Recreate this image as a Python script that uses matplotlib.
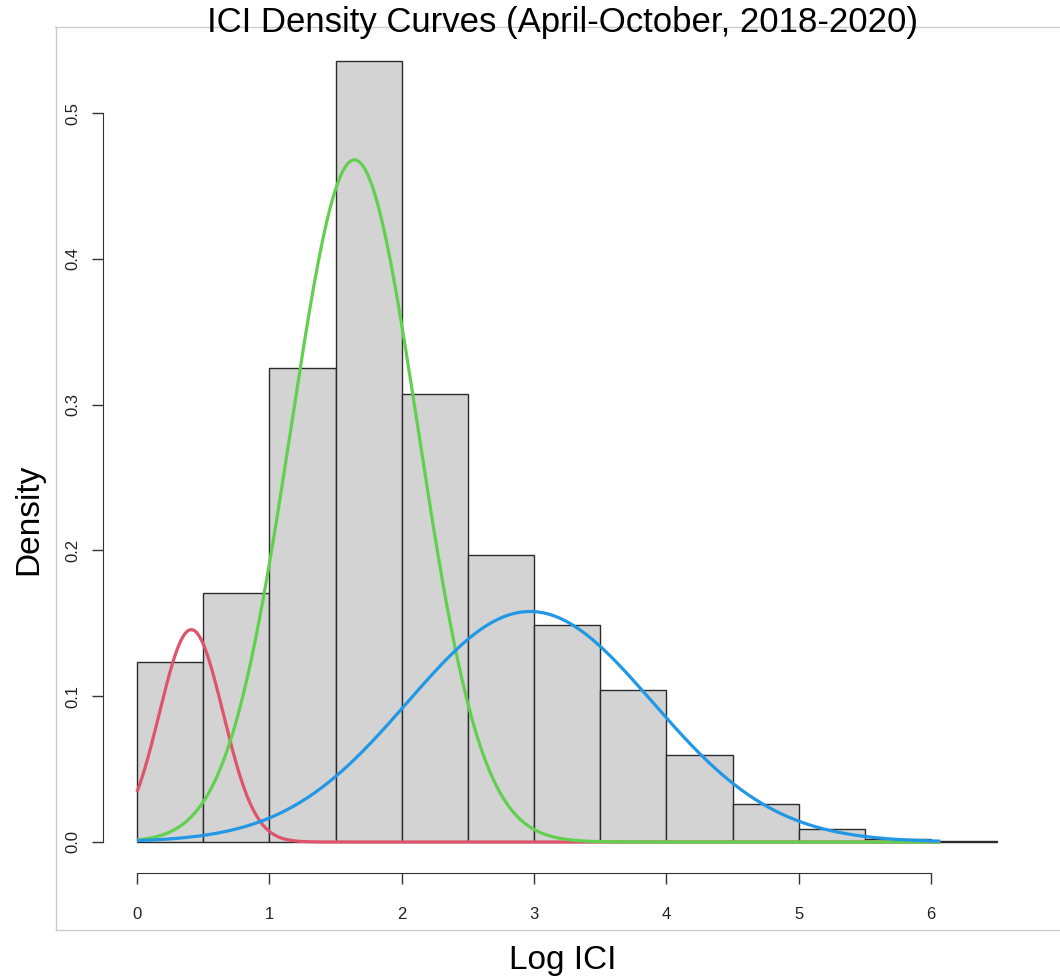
import matplotlib
matplotlib.use('Agg')
import matplotlib.pyplot as plt
import numpy as np
from matplotlib.lines import Line2D

plt.rcParams['font.family'] = ['Liberation Sans', 'DejaVu Sans']

# Histogram (density) of log ICI, bin width 0.5
bin_left = [0.0, 0.5, 1.0, 1.5, 2.0, 2.5, 3.0, 3.5, 4.0, 4.5, 5.0, 5.5, 6.0]
bin_density = [0.1235, 0.1708, 0.3251, 0.5357, 0.3073, 0.1968, 0.1488,
               0.1043, 0.0597, 0.0259, 0.0087, 0.0023, 0.0004]

# Fitted normal mixture components (weight, mean, sd)
comp_weight = [0.088, 0.563, 0.367]
comp_mean = [0.41, 1.643, 2.97]
comp_sd = [0.241, 0.480, 0.926]
comp_color = ['#DF536B', '#61D04F', '#2297E6']
curve_range = (0.0, 6.07)

fig = plt.figure(figsize=(10.6, 9.8), dpi=100)
ax = fig.add_axes([0.0968, 0.1090, 0.8764, 0.8604])

ax.bar(bin_left, bin_density, width=0.5, align='edge',
       color='#D3D3D3', edgecolor='#2b2b2b', linewidth=1.0)

x = np.linspace(curve_range[0], curve_range[1], 600)
for w, m, s, c in zip(comp_weight, comp_mean, comp_sd, comp_color):
    y = w * np.exp(-0.5 * ((x - m) / s) ** 2) / (s * np.sqrt(2 * np.pi))
    ax.plot(x, y, color=c, linewidth=2.3, solid_capstyle='butt')

ax.set_xlim(-0.26, 6.76)
ax.set_ylim(-0.0214, 0.557)

# R-style detached axes
for side in ['top', 'right']:
    ax.spines[side].set_visible(False)
ax.spines['left'].set_bounds(0, 0.5)
ax.spines['bottom'].set_bounds(0, 6)
ax.spines['left'].set_color('#333333')
ax.spines['bottom'].set_color('#333333')
ax.set_xticks(range(0, 7))
ax.set_yticks([0.0, 0.1, 0.2, 0.3, 0.4, 0.5])
ax.set_yticklabels(['0.0', '0.1', '0.2', '0.3', '0.4', '0.5'],
                   rotation=90, va='center')
ax.tick_params(axis='both', length=8, width=1, color='#333333',
               labelsize=12, labelcolor='#222222')
ax.tick_params(axis='x', pad=16)
ax.tick_params(axis='y', pad=8)

fig.text(0.531, 0.977, 'ICI Density Curves (April-October, 2018-2020)',
         ha='center', va='center', fontsize=25)
fig.text(0.531, 0.020, 'Log ICI', ha='center', va='center', fontsize=24)
fig.text(0.027, 0.47, 'Density', ha='center', va='center', fontsize=24,
         rotation=90)

# light frame around the plot region
frame = '#cccccc'
fig.add_artist(Line2D([55 / 1060, 1.0], [1 - 27 / 980, 1 - 27 / 980],
                      color=frame, linewidth=1, transform=fig.transFigure, zorder=0))
fig.add_artist(Line2D([56 / 1060, 56 / 1060], [1 - 27 / 980, 1 - 930 / 980],
                      color=frame, linewidth=1, transform=fig.transFigure, zorder=0))
fig.add_artist(Line2D([56 / 1060, 1.0], [1 - 930 / 980, 1 - 930 / 980],
                      color=frame, linewidth=1, transform=fig.transFigure, zorder=0))

fig.savefig('out.png', dpi=100)
